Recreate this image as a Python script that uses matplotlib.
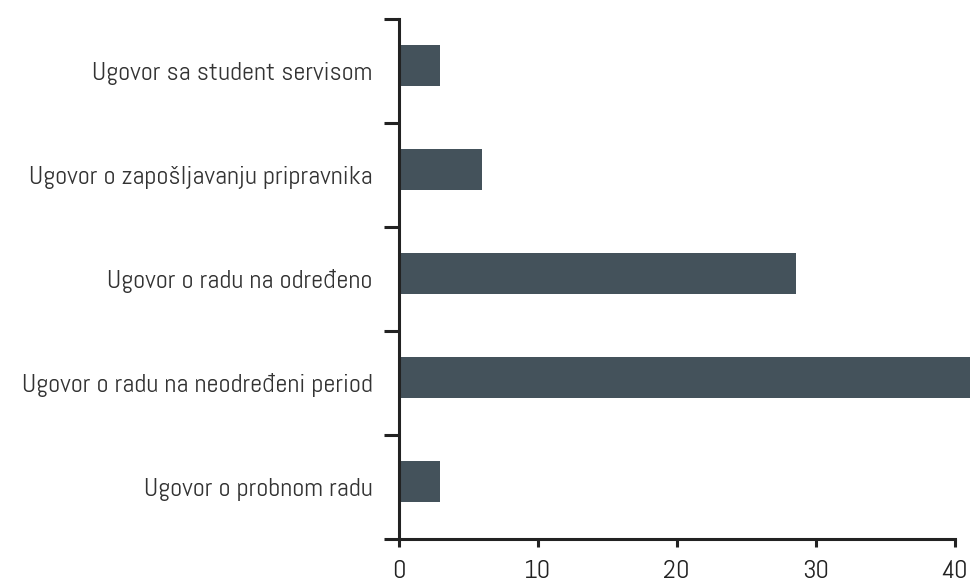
import matplotlib
matplotlib.use("Agg")
import matplotlib.pyplot as plt
import numpy as np

# data, bottom to top
categories = [
    "Ugovor o probnom radu",
    "Ugovor o radu na neodređeni period",
    "Ugovor o radu na određeno",
    "Ugovor o zapošljavanju pripravnika",
    "Ugovor sa student servisom",
]
values = [3.0, 41.1, 28.6, 6.0, 3.0]
x_ticks = [0, 10, 20, 30, 40]

plt.rcParams['font.family'] = ['Abel', 'Roboto Condensed', 'DejaVu Sans']
plt.rcParams['font.weight'] = 'light'

fig = plt.figure(figsize=(9.75, 5.87), dpi=100)
ax = fig.add_axes([0.409, 0.0818, 0.586, 0.886])

pos = np.arange(len(categories))
ax.barh(pos + 0.05, values, height=0.39, color='#44525b')

ax.set_xlim(0, max(values))
ax.set_ylim(-0.5, len(categories) - 0.5)

ax.set_xticks(x_ticks)
ax.set_xticklabels([str(t) for t in x_ticks], fontsize=19, color='#222222')
ax.set_yticks(pos)
ax.set_yticklabels(categories, fontsize=19, color='#333333')
ax.set_yticks(np.arange(len(categories) + 1) - 0.5, minor=True)

for s in ['top', 'right']:
    ax.spines[s].set_visible(False)
for s in ['left', 'bottom']:
    ax.spines[s].set_linewidth(2.2)
    ax.spines[s].set_color('#222222')
ax.spines['bottom'].set_bounds(0, 40)

ax.tick_params(axis='y', which='major', length=0, pad=19)
ax.tick_params(axis='y', which='minor', length=11, width=2.2, color='#222222')
ax.tick_params(axis='x', length=6, width=2.2, color='#222222', pad=9)

fig.savefig('out.png', dpi=100)
